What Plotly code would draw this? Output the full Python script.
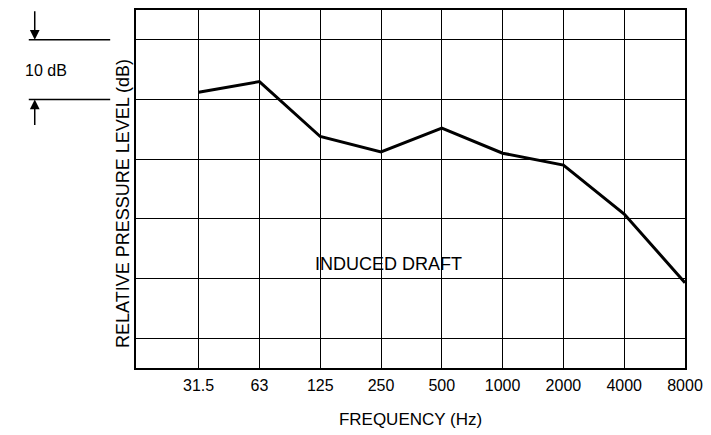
import plotly.graph_objects as go

# Octave-band centre frequencies (Hz) and relative level (dB) of the induced-draft fan
bands = ["31.5", "63", "125", "250", "500", "1000", "2000", "4000", "8000"]
level_db = [41.2, 43.0, 33.8, 31.2, 35.2, 31.0, 29.0, 20.8, 9.3]

x_idx = list(range(len(bands)))
FONT = "Liberation Sans, Arial, Helvetica, sans-serif"

fig = go.Figure()
fig.add_trace(go.Scatter(
    x=x_idx, y=level_db, mode="lines",
    line=dict(color="black", width=3),
    hoverinfo="skip", showlegend=False,
))

W, H = 711, 435
L, R, T, B = 136, 22, 8, 67
pw, ph = W - L - R, H - T - B


def px_to_paper_x(px):
    return (px - L) / pw


def px_to_paper_y(py):
    return (H - B - py) / ph


fig.update_layout(
    width=W, height=H,
    margin=dict(l=L, r=R, t=T, b=B, pad=0),
    paper_bgcolor="white", plot_bgcolor="white",
    font=dict(family=FONT, color="black", size=16),
    xaxis=dict(
        range=[-1.03, 8], tickmode="array", tickvals=x_idx, ticktext=bands,
        showgrid=True, gridcolor="black", gridwidth=1.3,
        showline=True, linecolor="black", linewidth=2, mirror=True,
        zeroline=False, ticks="outside", ticklen=2, tickcolor="rgba(0,0,0,0)",
        tickfont=dict(size=16),
        title=dict(text="FREQUENCY (Hz)", font=dict(size=17), standoff=20),
    ),
    yaxis=dict(
        range=[-5, 55], tick0=0, dtick=10,
        showgrid=True, gridcolor="black", gridwidth=1.3,
        showline=True, linecolor="black", linewidth=2, mirror=True,
        zeroline=False, showticklabels=False, ticks="",
    ),
)

# Y-axis caption
fig.add_annotation(
    xref="paper", yref="paper", x=px_to_paper_x(123), y=px_to_paper_y(203),
    text="RELATIVE PRESSURE LEVEL (dB)", textangle=-90, showarrow=False,
    font=dict(size=18), xanchor="center", yanchor="middle",
)

# Curve label
fig.add_annotation(
    xref="paper", yref="paper", x=px_to_paper_x(390), y=px_to_paper_y(263),
    text="INDUCED DRAFT", showarrow=False, font=dict(size=18),
    xanchor="center", yanchor="middle",
)

# 10 dB scale marker: two reference lines one grid step apart
for yv in (50, 40):
    fig.add_shape(
        type="line", xref="paper", yref="y",
        x0=px_to_paper_x(28), x1=px_to_paper_x(110), y0=yv, y1=yv,
        line=dict(color="black", width=1.5),
    )
fig.add_annotation(
    xref="paper", yref="paper", x=px_to_paper_x(22), y=px_to_paper_y(69),
    text="10 dB", showarrow=False, font=dict(size=16),
    xanchor="left", yanchor="middle",
)
# arrows pointing at the two lines
fig.add_annotation(
    xref="paper", yref="y", x=px_to_paper_x(34), y=50, text="",
    showarrow=True, arrowhead=2, arrowsize=1.3, arrowwidth=1.5,
    arrowcolor="black", ax=0, ay=-30, standoff=0,
)
fig.add_annotation(
    xref="paper", yref="y", x=px_to_paper_x(34), y=40, text="",
    showarrow=True, arrowhead=2, arrowsize=1.3, arrowwidth=1.5,
    arrowcolor="black", ax=0, ay=27, standoff=0,
)

fig.write_html("out.html")
